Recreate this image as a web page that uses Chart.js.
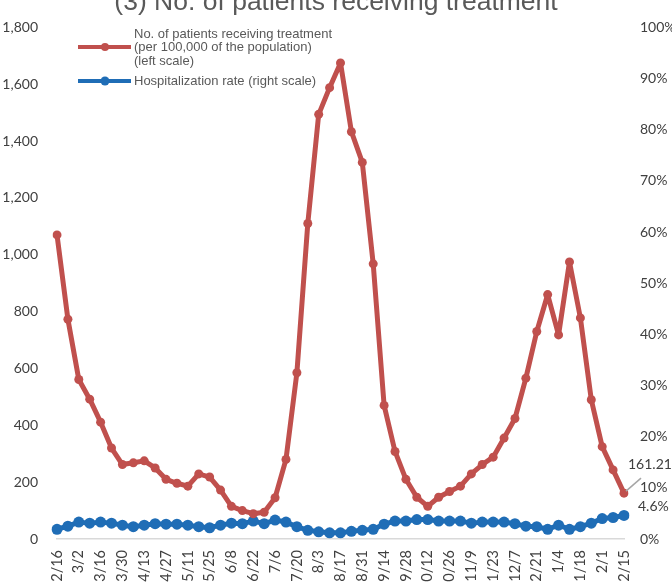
<!DOCTYPE html>
<html>
<head>
<meta charset="utf-8">
<script src="https://cdn.jsdelivr.net/npm/chart.js@4.4.1/dist/chart.umd.min.js"></script>
<style>
  html, body { margin: 0; padding: 0; background: #fff; }
  #wrap { width: 672px; height: 582px; position: relative; }
</style>
</head>
<body>
<div id="wrap"><canvas id="c" width="672" height="582"></canvas></div>
<script>
const categories = ["2/16","2/23","3/2","3/9","3/16","3/23","3/30","4/6","4/13","4/20","4/27","5/4","5/11","5/18","5/25","6/1","6/8","6/15","6/22","6/29","7/6","7/13","7/20","7/27","8/3","8/10","8/17","8/24","8/31","9/7","9/14","9/21","9/28","10/5","10/12","10/19","10/26","11/2","11/9","11/16","11/23","11/30","12/7","12/14","12/21","12/28","1/4","1/11","1/18","1/25","2/1","2/8","2/15"];
const patients = [1070, 773, 561, 492, 411, 320, 262, 268, 275, 250, 210, 196, 186, 229, 218, 172, 115, 100, 89, 94, 145, 280, 585, 1110, 1494, 1588, 1675, 1433, 1325, 968, 470, 308, 210, 147, 115, 147, 167, 186, 229, 262, 288, 355, 424, 566, 730, 860, 718, 975, 778, 490, 325, 243, 161.21];
const hospRate = [1.9, 2.5, 3.3, 3.1, 3.3, 3.1, 2.7, 2.4, 2.7, 3.0, 2.9, 2.9, 2.7, 2.4, 2.2, 2.7, 3.1, 3.0, 3.5, 3.0, 3.7, 3.3, 2.4, 1.7, 1.4, 1.2, 1.2, 1.5, 1.7, 1.9, 2.9, 3.5, 3.5, 3.8, 3.8, 3.5, 3.5, 3.5, 3.1, 3.3, 3.3, 3.3, 3.0, 2.5, 2.4, 1.9, 2.7, 1.9, 2.4, 3.1, 4.0, 4.2, 4.6];
const titleText = "(3) No. of patients receiving treatment";
const legendPatients = ["No. of patients receiving treatment", "(per 100,000 of the population)", "(left scale)"];
const legendRate = "Hospitalization rate (right scale)";
const lastPatientsLabel = "161.21";
const lastRateLabel = "4.6%";

const RED = '#C0504D';
const BLUE = '#1F6DB6';
const TICK_FONT = { family: 'Lato', size: 14 };
const TICK_COLOR = '#404040';

const overlay = {
  id: 'overlay',
  afterDraw(chart) {
    const ctx = chart.ctx;
    ctx.save();
    // Title (cut off at the top like the reference)
    ctx.fillStyle = '#595959';
    ctx.font = '26.5px "Liberation Sans", Arial, sans-serif';
    ctx.textAlign = 'center';
    ctx.textBaseline = 'alphabetic';
    ctx.fillText(titleText, 336, 10);

    // Legend
    const drawKey = (y, color, r) => {
      ctx.strokeStyle = color; ctx.lineWidth = 4;
      ctx.beginPath(); ctx.moveTo(78, y); ctx.lineTo(131, y); ctx.stroke();
      ctx.fillStyle = color;
      ctx.beginPath(); ctx.arc(105, y, r, 0, Math.PI * 2); ctx.fill();
    };
    drawKey(47, RED, 4);
    drawKey(81, BLUE, 4.5);
    ctx.fillStyle = '#595959';
    ctx.font = '13px "Liberation Sans", Arial, sans-serif';
    ctx.textAlign = 'left';
    ctx.textBaseline = 'middle';
    ctx.fillText(legendPatients[0], 134, 34, 201);
    ctx.fillText(legendPatients[1], 134, 47.5, 181);
    ctx.fillText(legendPatients[2], 134, 61);
    ctx.fillText(legendRate, 134, 81, 184);

    // Data labels for last points
    const meta0 = chart.getDatasetMeta(0);
    const meta1 = chart.getDatasetMeta(1);
    const p0 = meta0.data[meta0.data.length - 1];
    const p1 = meta1.data[meta1.data.length - 1];
    ctx.strokeStyle = '#A6A6A6'; ctx.lineWidth = 1.5;
    ctx.beginPath(); ctx.moveTo(p0.x + 2, p0.y - 2); ctx.lineTo(p0.x + 17, p0.y - 15); ctx.stroke();
    ctx.fillStyle = TICK_COLOR;
    ctx.font = '14px Lato, sans-serif';
    ctx.textAlign = 'left';
    ctx.fillText(lastPatientsLabel, p0.x + 4, p0.y - 29);
    ctx.fillText(lastRateLabel, p1.x + 14, p1.y - 9);
    ctx.restore();
  }
};

new Chart(document.getElementById('c'), {
  type: 'line',
  data: {
    labels: categories,
    datasets: [
      {
        label: legendPatients.join(' '),
        data: patients,
        yAxisID: 'y',
        borderColor: RED,
        backgroundColor: RED,
        borderWidth: 5,
        borderJoinStyle: 'round',
        borderCapStyle: 'round',
        pointRadius: 4.5,
        pointBorderWidth: 0,
        pointHoverRadius: 4.5,
        tension: 0
      },
      {
        label: legendRate,
        data: hospRate,
        yAxisID: 'y1',
        borderColor: BLUE,
        backgroundColor: BLUE,
        borderWidth: 5,
        borderJoinStyle: 'round',
        borderCapStyle: 'round',
        pointRadius: 5.5,
        pointBorderWidth: 0,
        pointHoverRadius: 5.5,
        tension: 0
      }
    ]
  },
  options: {
    responsive: false,
    animation: false,
    events: [],
    layout: { padding: { top: 19, left: 0, right: 0, bottom: 0 } },
    plugins: { legend: { display: false }, tooltip: { enabled: false }, title: { display: false } },
    scales: {
      x: {
        offset: false,
        grid: { display: false, drawTicks: false },
        border: { display: true, color: '#D9D9D9', width: 1.5 },
        ticks: {
          autoSkip: false,
          maxRotation: 90,
          minRotation: 90,
          padding: 11,
          font: { family: 'Lato', size: 14.5 },
          color: TICK_COLOR,
          callback: function(v, i) { return i % 2 === 0 ? categories[i] : ''; }
        },
        afterFit(scale) { scale.height = 43; }
      },
      y: {
        position: 'left',
        min: 0, max: 1800,
        grid: { display: false, drawTicks: false },
        border: { display: false },
        ticks: {
          stepSize: 200,
          padding: 19,
          font: TICK_FONT,
          color: TICK_COLOR,
          callback: v => v.toLocaleString('en-US')
        },
        afterFit(scale) { scale.width = 57; }
      },
      y1: {
        position: 'right',
        min: 0, max: 100,
        grid: { display: false, drawTicks: false },
        border: { display: false },
        ticks: {
          stepSize: 10,
          padding: 16,
          font: TICK_FONT,
          color: TICK_COLOR,
          callback: v => v + '%'
        },
        afterFit(scale) { scale.width = 48; }
      }
    }
  },
  plugins: [overlay]
});
</script>
</body>
</html>
